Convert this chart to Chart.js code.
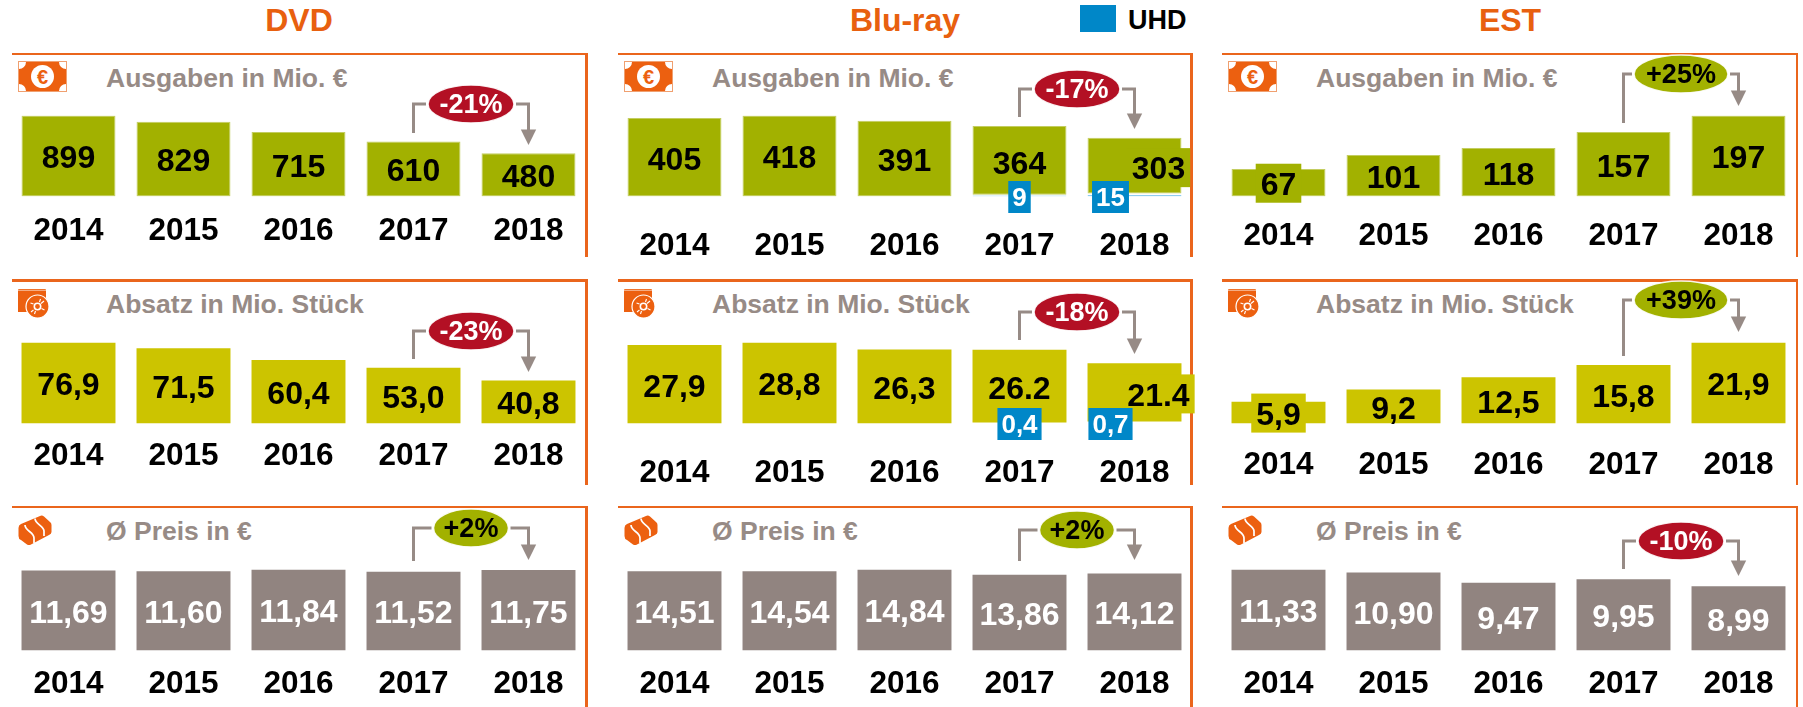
<!DOCTYPE html>
<html lang="de">
<head>
<meta charset="utf-8">
<title>DVD, Blu-ray, EST 2014-2018</title>
<script src="https://cdn.jsdelivr.net/npm/chart.js@4"></script>
<style>
html,body{margin:0;padding:0;background:#fff;width:1803px;height:707px;overflow:hidden;font-family:"Liberation Sans",Arial,sans-serif}
.abs{position:absolute}
.hdr{position:absolute;top:2px;height:37px;line-height:37px;font-size:32px;font-weight:700;color:#E8600F;transform:translateX(-50%);white-space:nowrap}
.ttl{position:absolute;font-size:26.5px;font-weight:700;color:#978B86;line-height:30px;height:30px;white-space:nowrap}
.line{position:absolute;background:#EA651C}
canvas{position:absolute;display:block}
</style>
</head>
<body>
<script>
// ---- data ----
const years = ['2014','2015','2016','2017','2018'];

const dvdSpend   = [899,829,715,610,480];
const dvdUnits   = [76.9,71.5,60.4,53.0,40.8];
const dvdPrice   = [11.69,11.60,11.84,11.52,11.75];

const blurayTotalSpend = [405,418,391,364,303];
const bluraySpendUhd   = [0,0,0,9,15];
const blurayTotalUnits = [27.9,28.8,26.3,26.2,21.4];
const blurayUnitsUhd   = [0,0,0,0.4,0.7];
const blurayPrice      = [14.51,14.54,14.84,13.86,14.12];

const estSpend = [67,101,118,157,197];
const estUnits = [5.9,9.2,12.5,15.8,21.9];
const estPrice = [11.33,10.90,9.47,9.95,8.99];

const dvdSpendLabels   = ['899','829','715','610','480'];
const dvdUnitsLabels   = ['76,9','71,5','60,4','53,0','40,8'];
const dvdPriceLabels   = ['11,69','11,60','11,84','11,52','11,75'];
const brSpendLabels    = ['405','418','391','364','303'];
const brSpendUhdLabels = ['','','','9','15'];
const brUnitsLabels    = ['27,9','28,8','26,3','26.2','21.4'];
const brUnitsUhdLabels = ['','','','0,4','0,7'];
const brPriceLabels    = ['14,51','14,54','14,84','13,86','14,12'];
const estSpendLabels   = ['67','101','118','157','197'];
const estUnitsLabels   = ['5,9','9,2','12,5','15,8','21,9'];
const estPriceLabels   = ['11,33','10,90','9,47','9,95','8,99'];

const headers = ['DVD','Blu-ray','EST'];
const rowTitles = ['Ausgaben in Mio. €','Absatz in Mio. Stück','Ø Preis in €'];
const changes = [['-21%','-17%','+25%'],['-23%','-18%','+39%'],['+2%','+2%','-10%']];

// ---- style and layout ----
const OLIVE='#A2B100', YELLOW='#CCC400', GREY='#918480', BLUE='#0087C8', RED='#B31024', ORANGE='#EA651C', STROKE='#978B86';
const FONT='"Liberation Sans", Arial, sans-serif';
const colLeft=[11,617,1221], colRule=[586.7,1191.3,1797];
const rowTop=[54,280.5,507], rowEnd=[257,485,707], rowBase=[196.5,423.5,650.5];
const titleX=[106,712,1316], titleY=[78,304,531];
const yearCenter=[[229,244,234],[454,471,463],[682,682,682]];
const maxBarPx=81;
const axisHeight=80;
// change-badge placement: [ellipse y, stem bottom, arrow tip, ellipse rx]
const badge=[
 [[104,133,145,43],[89,117,129,43],[74,123,106,47]],
 [[331,359,372,43],[312,340,354,43],[300,356,332,47]],
 [[528,561,560,37.5],[530,561,560,37.5],[541,569,576,43]]
];
const dpr=1;

function bracketPlugin(cfg){
  return {id:'annot',afterDatasetsDraw(chart){
    const c=chart.ctx,x=chart.scales.x,y=chart.scales.y,top=chart.canvas._top;
    const xa=x.getPixelForValue(3),xb=x.getPixelForValue(4),mx=(xa+xb)/2;
    const [ey,stem,tip,rx]=cfg.badge.map((v,i)=>i<3?v-top:v);
    c.save();
    c.strokeStyle=STROKE;c.lineWidth=3;c.lineCap='butt';c.lineJoin='miter';
    c.beginPath();c.moveTo(xa,stem);c.lineTo(xa,ey);c.lineTo(mx-rx-2,ey);c.stroke();
    c.beginPath();c.moveTo(mx+rx+2,ey);c.lineTo(xb,ey);c.lineTo(xb,tip-14);c.stroke();
    c.fillStyle=STROKE;c.beginPath();c.moveTo(xb-7.7,tip-15.5);c.lineTo(xb+7.7,tip-15.5);c.lineTo(xb,tip);c.closePath();c.fill();
    const up=cfg.change[0]==='+';
    c.beginPath();c.ellipse(mx,ey,rx,19,0,0,Math.PI*2);
    c.fillStyle=cfg.badgeColor;c.fill();
    c.strokeStyle='rgba(255,255,255,.9)';c.lineWidth=1.5;c.stroke();
    c.fillStyle=up?'#000':'#fff';c.textAlign='center';c.textBaseline='middle';
    c.font='bold 27px '+FONT;c.fillText(cfg.change,mx,ey+2);

    // value labels
    c.font='bold 32px '+FONT;
    cfg.labels.forEach((txt,i)=>{
      const cx=x.getPixelForValue(i)+(cfg.shift[i]||0);
      const cy=(y.getPixelForValue(cfg.values[i])+y.getPixelForValue(0))/2+1;
      if(cfg.boxed.includes(i)){
        const w=c.measureText(txt).width+10;
        c.fillStyle=cfg.color;c.fillRect(cx-w/2,cy-20,w,39);
      }
      c.fillStyle=cfg.labelColor;c.fillText(txt,cx,cy+2.5);
    });
    // UHD boxes
    if(cfg.uhdLabels){
      c.font='bold 26px '+FONT;
      cfg.uhdLabels.forEach((txt,i)=>{
        if(!txt) return;
        const cx=x.getPixelForValue(i)+(cfg.uhdShift[i]||0), cy=y.getPixelForValue(0);
        const w=c.measureText(txt).width+8;
        c.fillStyle=BLUE;c.fillRect(cx-w/2,cy-15.5,w,32);
        c.fillStyle='#fff';c.fillText(txt,cx,cy+2.5);
      });
    }
    c.restore();
  }};
}

function addEl(cls,style,text){
  const d=document.createElement('div');d.className=cls;Object.assign(d.style,style);
  if(text) d.textContent=text;document.body.appendChild(d);return d;
}

function panel(r,col,opt){
  const left=colLeft[col],top=Math.floor(rowTop[r]),w=590,pw=575;
  const base=rowBase[r];
  const h=Math.ceil(base+axisHeight-top);
  // frame
  addEl('line',{left:(left+0.5)+'px',top:(rowTop[r]-1.25)+'px',width:(colRule[col]+1.25-left-0.5)+'px',height:'2.5px'});
  addEl('line',{left:(colRule[col]-1.25)+'px',top:(rowTop[r]-1.25)+'px',width:'2.5px',height:(rowEnd[r]-rowTop[r]+1.25)+'px'});
  addEl('ttl',{left:titleX[col]+'px',top:(titleY[r]-15)+'px'},rowTitles[r]);
  const cv=document.createElement('canvas');
  cv.width=w;cv.height=h;cv.style.left=left+'px';cv.style.top=top+'px';
  cv.style.width=w+'px';cv.style.height=h+'px';cv._top=top;
  document.body.appendChild(cv);

  const datasets=[];
  const border=r===0?'#C3CD60':undefined;
  if(opt.uhd){
    datasets.push({data:opt.uhd,stack:'s',backgroundColor:'rgba(0,0,0,0)',
      borderColor:opt.uhdLine,borderWidth:{top:0,left:0,right:0,bottom:2},borderSkipped:false});
    datasets.push({data:opt.values.map((v,i)=>v-opt.uhd[i]),stack:'s',backgroundColor:opt.color,
      borderColor:border||opt.color,borderWidth:border?1:0,borderSkipped:false});
  }else{
    datasets.push({data:opt.values,stack:'s',backgroundColor:opt.color,
      borderColor:border||opt.color,borderWidth:border?1:0,borderSkipped:false});
  }
  const axisH=top+h-base;
  const tickPad=yearCenter[r][col]-base-16.5;
  new Chart(cv,{
    type:'bar',
    data:{labels:years,datasets},
    options:{
      responsive:false,animation:false,devicePixelRatio:dpr,
      layout:{padding:{top:base-maxBarPx-top,right:w-pw,left:0,bottom:0}},
      plugins:{legend:{display:false},tooltip:{enabled:false},title:{display:false}},
      datasets:{bar:{barPercentage:0.817,categoryPercentage:1}},
      scales:{
        x:{stacked:true,grid:{display:false,drawTicks:false},border:{display:false},
           ticks:{color:'#000',padding:tickPad,maxRotation:0,autoSkip:false,font:{family:FONT,size:31.5,weight:'bold'}},
           afterFit(s){s.height=axisH;s.paddingLeft=0;s.paddingRight=0;}},
        y:{stacked:true,display:false,min:0,max:Math.max(...opt.values)}
      }
    },
    plugins:[bracketPlugin({
      badge:badge[r][col],change:changes[r][col],
      badgeColor:changes[r][col][0]==='+'?OLIVE:RED,
      labels:opt.labels,values:opt.values,color:opt.color,
      labelColor:r===2?'#fff':'#000',
      boxed:opt.boxed||[],shift:opt.shift||[],
      uhdLabels:opt.uhdLabels,uhdShift:opt.uhdShift||[]
    })]
  });
}

// headers and legend
addEl('hdr',{left:'299px'},headers[0]);
addEl('hdr',{left:'905px'},headers[1]);
addEl('hdr',{left:'1510px'},headers[2]);
addEl('abs',{left:'1080px',top:'5px',width:'36px',height:'27px',background:BLUE});
addEl('abs',{left:'1128px',top:'4px',height:'32px',lineHeight:'32px',fontSize:'27px',fontWeight:'700',color:'#000'},'UHD');

const P4=[0,0,0,0,24], U4=[0,0,0,0,-24];
panel(0,0,{values:dvdSpend,labels:dvdSpendLabels,color:OLIVE});
panel(1,0,{values:dvdUnits,labels:dvdUnitsLabels,color:YELLOW});
panel(2,0,{values:dvdPrice,labels:dvdPriceLabels,color:GREY});
panel(0,1,{values:blurayTotalSpend,labels:brSpendLabels,color:OLIVE,uhd:bluraySpendUhd,uhdLine:'#8FCDF0',
  uhdLabels:brSpendUhdLabels,uhdShift:U4,shift:P4,boxed:[4]});
panel(1,1,{values:blurayTotalUnits,labels:brUnitsLabels,color:YELLOW,uhd:blurayUnitsUhd,uhdLine:'rgba(0,0,0,0)',
  uhdLabels:brUnitsUhdLabels,uhdShift:U4,shift:P4,boxed:[4]});
panel(2,1,{values:blurayPrice,labels:brPriceLabels,color:GREY});
panel(0,2,{values:estSpend,labels:estSpendLabels,color:OLIVE,boxed:[0]});
panel(1,2,{values:estUnits,labels:estUnitsLabels,color:YELLOW,boxed:[0]});
panel(2,2,{values:estPrice,labels:estPriceLabels,color:GREY});

// icons
const moneySvg=`<svg width="49" height="31" viewBox="0 0 49 31" xmlns="http://www.w3.org/2000/svg">
<rect width="49" height="31" fill="#F0A070"/><rect x="1" y="1" width="47" height="29" fill="#EC6010"/>
<path d="M1 1h7a7 7 0 0 1-7 7zM48 1h-7a7 7 0 0 0 7 7zM1 30h7a7 7 0 0 0-7-7zM48 30h-7a7 7 0 0 1 7-7z" fill="#fff"/>
<ellipse cx="24.5" cy="15.5" rx="11.5" ry="11.5" fill="#fff"/>
<text x="24.5" y="22.5" text-anchor="middle" font-family="Liberation Sans" font-weight="700" font-size="20" fill="#EC6010">€</text></svg>`;
const discSvg=`<svg width="31" height="30" viewBox="0 0 31 30" xmlns="http://www.w3.org/2000/svg">
<path d="M0 2q0-1 1-1h26q1 0 1 1v22H0z" fill="#EC6010"/><rect y="1.8" width="28" height="1" fill="#fff" opacity=".6"/>
<circle cx="19.5" cy="18.5" r="11.5" fill="#EC6010" stroke="#fff" stroke-width="1.2"/>
<circle cx="19.5" cy="18.5" r="3.2" fill="#EC6010" stroke="#fff" stroke-width="1.6"/>
<path d="M12.5 15l3 1M26 13l-3 2.5M13 24l2.5-2M22.5 11l-1 3M16.5 26l1-3M26.5 22l-3-1.5" stroke="#fff" stroke-width="1.1"/></svg>`;
const coinSvg=`<svg width="34" height="31" viewBox="0 0 34 31" xmlns="http://www.w3.org/2000/svg">
<path d="M0.5 13Q0.5 10 3 9L22 1Q24 0 26 1.5L32 7Q33.5 8 33.5 10V17Q33.5 19 31 20L13 29.5Q11 30.5 9 29.5L3 25Q0.5 24 0.5 21Z" fill="#EC6010"/>
<path d="M7 10C7 16 16 17 16 23V28M17 3.500C17 9 26 11 26 16V21" fill="none" stroke="#fff" stroke-width="1.7"/></svg>`;
[0,1,2].forEach(col=>{
  const x=colLeft[col]+6.7;
  [[moneySvg,61],[discSvg,288],[coinSvg,515]].forEach(([s,y])=>{
    const d=addEl('abs',{left:x+'px',top:y+'px',lineHeight:0});d.innerHTML=s;
  });
});
</script>
</body>
</html>
